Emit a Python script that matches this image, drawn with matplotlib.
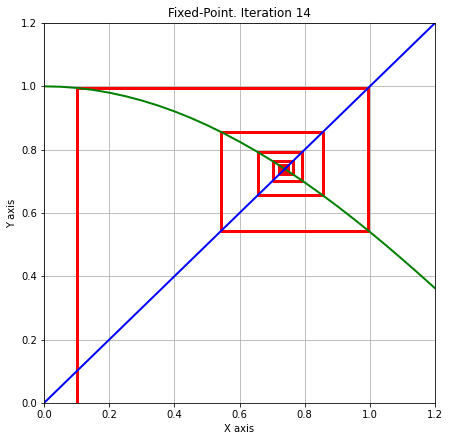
import matplotlib
matplotlib.use("Agg")
import matplotlib.pyplot as plt

# ── data ──────────────────────────────────────────────────────────────────────

# green curve samples
curve_x = [0.00, 0.05, 0.10, 0.15, 0.20, 0.25, 0.30, 0.35, 0.40, 0.45, 0.50, 0.55, 0.60,
           0.65, 0.70, 0.75, 0.80, 0.85, 0.90, 0.95, 1.00, 1.05, 1.10, 1.15, 1.20]
curve_y = [1.0000, 0.9988, 0.9950, 0.9888, 0.9801, 0.9689, 0.9553, 0.9394, 0.9211,
           0.9005, 0.8776, 0.8525, 0.8253, 0.7961, 0.7648, 0.7317, 0.6967, 0.6600,
           0.6216, 0.5817, 0.5403, 0.4976, 0.4536, 0.4085, 0.3624]

# diagonal y = x
line_x = [0.0, 1.2]
line_y = [0.0, 1.2]

# fixed-point iterates x0 .. x14
iterates = [0.1000, 0.9950, 0.5445, 0.8554, 0.6559, 0.7925, 0.7021, 0.7635,
            0.7224, 0.7502, 0.7316, 0.7441, 0.7357, 0.7414, 0.7375]

# ── cobweb path ───────────────────────────────────────────────────────────────

web_x = [iterates[0]]
web_y = [0.0]
for a, b in zip(iterates[:-1], iterates[1:]):
    web_x += [a, b]
    web_y += [b, b]

# ── plot ──────────────────────────────────────────────────────────────────────

fig = plt.figure(figsize=(6.25, 6.125), dpi=72)
ax = fig.add_axes([0.0978, 0.0862, 0.8689, 0.8616])

ax.plot(web_x, web_y, color="red", linewidth=3)
ax.plot(curve_x, curve_y, color="green", linewidth=2)
ax.plot(line_x, line_y, color="blue", linewidth=2)

ax.set_xlim(0, 1.2)
ax.set_ylim(0, 1.2)
ax.grid(True, color="#b0b0b0", linewidth=0.8)
ax.set_xlabel("X axis")
ax.set_ylabel("Y axis")
ax.set_title("Fixed-Point. Iteration 14")

fig.savefig("out.png", dpi=72)
